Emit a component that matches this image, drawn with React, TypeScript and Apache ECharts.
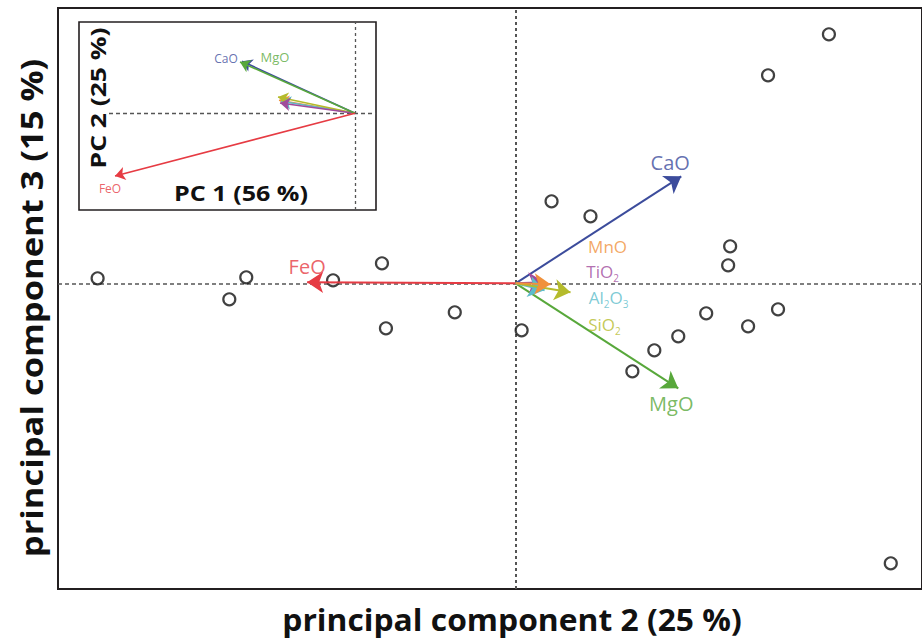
import React, { useEffect, useRef } from "react";
import * as echarts from "echarts";

// ---- data ----
const sampleScores: [number, number][] = [
  [-4.19, 0.05], [-2.87, -0.16], [-2.7, 0.06], [-1.83, 0.03], [-1.34, 0.2],
  [-1.3, -0.45], [-0.61, -0.29], [0.06, -0.47], [0.36, 0.82], [0.75, 0.67],
  [2.15, 0.37], [2.13, 0.18], [1.91, -0.3], [2.33, -0.43], [2.63, -0.26],
  [1.63, -0.53], [1.39, -0.67], [1.17, -0.88], [2.53, 2.08], [3.14, 2.49],
  [3.76, -2.8],
];

const mainNames = ["FeO", "CaO", "MgO", "TiO2", "Al2O3", "SiO2", "MnO"];
const mainLoadings: [number, number][] = [
  [-2.09, 0.01], [1.66, 1.07], [1.63, -1.05], [0.29, 0.01], [0.29, -0.07],
  [0.55, -0.09], [0.35, -0.01],
];

const insetNames = ["MnO", "Al2O3", "SiO2", "TiO2", "CaO", "MgO", "FeO"];
const insetLoadings: [number, number][] = [
  [-0.76, 0.13], [-0.74, 0.12], [-0.77, 0.163], [-0.75, 0.103], [-1.13, 0.52],
  [-1.15, 0.513], [-2.4, -0.627],
];
const insetLabelled = ["CaO", "MgO", "FeO"];

const xTitle = "principal component 2 (25 %)";
const yTitle = "principal component 3 (15 %)";
const insetXTitle = "PC 1 (56 %)";
const insetYTitle = "PC 2 (25 %)";

// ---- styles ----
const colors: Record<string, string> = {
  FeO: "#e63b43",
  CaO: "#3c4c9c",
  MgO: "#58a83b",
  TiO2: "#a04a9c",
  Al2O3: "#5dbdca",
  SiO2: "#b5bb2c",
  MnO: "#f0913c",
};
const mainLabelStyle: Record<string, { offset: [number, number]; size: number }> = {
  FeO: { offset: [0, -17], size: 20 },
  CaO: { offset: [-11, -15], size: 20 },
  MgO: { offset: [-7, 14], size: 20 },
  MnO: { offset: [57, -37], size: 17 },
  TiO2: { offset: [58, -12], size: 17 },
  Al2O3: { offset: [64, 6], size: 17 },
  SiO2: { offset: [34, 31], size: 17 },
};
const insetLabelStyle: Record<string, { offset: [number, number]; size: number }> = {
  CaO: { offset: [-16, -3], size: 12 },
  MgO: { offset: [35, -5], size: 13 },
  FeO: { offset: [-5, 12], size: 12 },
};

const FONT = "'Open Sans', 'Noto Sans', sans-serif";

function richName(n: string) {
  if (n === "TiO2") return "{b|TiO}{s|2}";
  if (n === "Al2O3") return "{b|Al}{s|2}{b|O}{s|3}";
  if (n === "SiO2") return "{b|SiO}{s|2}";
  return "{b|" + n + "}";
}

const xMin = -4.587, xMax = 4.073, yMin = -3.057, yMax = 2.753;
const ixMin = -2.76, ixMax = 0.21, iyMin = -0.967, iyMax = 0.913;

function hiddenAxis(extra: any) {
  return {
    type: "value",
    axisLine: { show: false },
    axisTick: { show: false },
    axisLabel: { show: false },
    splitLine: { show: false },
    ...extra,
  };
}

function buildOption() {
  const arrowLines = (names: string[], vals: [number, number][], w: number) =>
    names.map((n, i) => ({
      coords: [[0, 0], vals[i]],
      lineStyle: { color: colors[n], width: w, opacity: 1 },
    }));

  const mainTips = mainNames.map((n, i) => {
    const st = mainLabelStyle[n];
    const hasSub = /\d/.test(n);
    return {
      value: mainLoadings[i],
      label: {
        show: true,
        position: "inside",
        offset: [st.offset[0], st.offset[1] + (hasSub ? 2 : 0)],
        formatter: richName(n),
        rich: {
          b: { fontSize: st.size, color: colors[n], fontFamily: FONT, lineHeight: 18, verticalAlign: "top" },
          s: { fontSize: 10, color: colors[n], fontFamily: FONT, lineHeight: 11, padding: [10, 0, 0, 0], verticalAlign: "top" },
        },
      },
    };
  });

  const insetTips = insetNames
    .map((n, i) => ({ n, v: insetLoadings[i] }))
    .filter((d) => insetLabelled.indexOf(d.n) >= 0)
    .map((d) => {
      const st = insetLabelStyle[d.n];
      return {
        value: d.v,
        label: {
          show: true,
          position: "inside",
          offset: st.offset,
          formatter: d.n,
          color: colors[d.n],
          fontSize: st.size,
          fontFamily: FONT,
        },
      };
    });

  const dash = "#555";
  const titleStyle = (text: string, size: number) => ({
    text, fontSize: size, fontWeight: "bold", fontFamily: FONT, fill: "#111",
    align: "center", verticalAlign: "middle",
  });

  return {
    animation: false,
    backgroundColor: "#fff",
    grid: [
      { left: 58, top: 8, right: -2, bottom: 49, show: true, borderColor: "#231f20", borderWidth: 2, backgroundColor: "transparent" },
      { left: 79, top: 22, width: 297, height: 188, show: true, borderColor: "#231f20", borderWidth: 1.6, backgroundColor: "#fff", z: 5 },
    ],
    xAxis: [
      hiddenAxis({ gridIndex: 0, min: xMin, max: xMax }),
      hiddenAxis({ gridIndex: 1, min: ixMin, max: ixMax }),
    ],
    yAxis: [
      hiddenAxis({ gridIndex: 0, min: yMin, max: yMax }),
      hiddenAxis({ gridIndex: 1, min: iyMin, max: iyMax }),
    ],
    series: [
      {
        type: "lines", coordinateSystem: "cartesian2d", xAxisIndex: 0, yAxisIndex: 0,
        symbol: "none", silent: true, z: 1,
        data: [
          { coords: [[xMin, 0], [xMax, 0]], lineStyle: { color: dash, width: 1.5, type: [4, 3], opacity: 1 } },
          { coords: [[0, yMin], [0, yMax]], lineStyle: { color: dash, width: 2, type: [3, 3], opacity: 1 } },
        ],
      },
      {
        type: "scatter", xAxisIndex: 0, yAxisIndex: 0, symbol: "circle", symbolSize: 12, z: 2,
        itemStyle: { color: "#fff", borderColor: "#111", borderWidth: 2.2 },
        data: sampleScores,
      },
      {
        type: "lines", coordinateSystem: "cartesian2d", xAxisIndex: 0, yAxisIndex: 0,
        symbol: ["none", "arrow"], symbolSize: 16, z: 3,
        data: arrowLines(mainNames, mainLoadings, 2),
      },
      {
        type: "scatter", xAxisIndex: 0, yAxisIndex: 0, symbolSize: 0, z: 4, silent: true,
        data: mainTips,
      },
      {
        type: "lines", coordinateSystem: "cartesian2d", xAxisIndex: 1, yAxisIndex: 1,
        symbol: "none", silent: true, z: 6,
        data: [
          { coords: [[-2.46, 0], [ixMax, 0]], lineStyle: { color: dash, width: 1.3, type: [4, 3], opacity: 1 } },
          { coords: [[0, iyMin], [0, iyMax]], lineStyle: { color: dash, width: 1.3, type: [3, 3], opacity: 1 } },
        ],
      },
      {
        type: "lines", coordinateSystem: "cartesian2d", xAxisIndex: 1, yAxisIndex: 1,
        symbol: ["none", "arrow"], symbolSize: 10, z: 7,
        data: arrowLines(insetNames, insetLoadings, 1.6),
      },
      {
        type: "scatter", xAxisIndex: 1, yAxisIndex: 1, symbolSize: 0, z: 8, silent: true,
        data: insetTips,
      },
    ],
    graphic: [
      {
        type: "text", x: 512, y: 619, scaleX: 1.06, z: 100,
        style: titleStyle(xTitle, 30),
      },
      {
        type: "text", x: 31, y: 308, rotation: Math.PI / 2, scaleX: 1.15, z: 100,
        style: titleStyle(yTitle, 30),
      },
      {
        type: "text", x: 241, y: 193, scaleX: 1.14, z: 100,
        style: titleStyle(insetXTitle, 22),
      },
      {
        type: "text", x: 97, y: 98, rotation: Math.PI / 2, scaleX: 1.2, z: 100,
        style: titleStyle(insetYTitle, 22),
      },
    ],
  };
}

export default function App() {
  const ref = useRef<HTMLDivElement>(null);
  useEffect(() => {
    const chart = echarts.init(ref.current!, null, { renderer: "svg" });
    chart.setOption(buildOption() as any);
    return () => chart.dispose();
  }, []);
  return (
    <div
      ref={ref}
      style={{ position: "absolute", left: 0, top: 0, width: 922, height: 638, background: "#fff" }}
    />
  );
}
